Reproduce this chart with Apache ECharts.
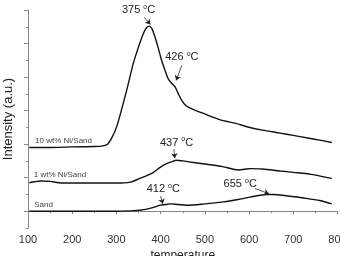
<!DOCTYPE html>
<html>
<head>
<meta charset="utf-8">
<script src="https://cdn.jsdelivr.net/npm/echarts@6/dist/echarts.min.js"></script>
<style>
html, body { margin: 0; padding: 0; background: #fff; }
#chartBox { width: 340px; height: 256px; }
</style>
</head>
<body>
<div id="chartBox"></div>
<script>
// temperature (x) and stacked intensity (a.u., offset per sample)
var tenX = [103, 150, 200, 250, 270, 280, 290, 300, 312, 325, 338, 350, 361, 368, 374, 380, 387, 395, 402, 410, 417, 426, 433, 440, 448, 457, 466, 480, 500, 520, 542, 570, 595, 630, 670, 700, 730, 760, 787];
var tenY = [1.9, 1.9, 1.92, 1.93, 1.95, 2.0, 2.2, 2.5, 3.05, 3.7, 4.4, 4.9, 5.3, 5.47, 5.52, 5.45, 5.2, 4.85, 4.5, 4.2, 3.95, 3.8, 3.7, 3.5, 3.3, 3.15, 3.08, 3.0, 2.9, 2.8, 2.7, 2.62, 2.52, 2.42, 2.33, 2.26, 2.19, 2.12, 2.05];

var oneX = [103, 115, 130, 150, 170, 200, 250, 300, 330, 353, 370, 383, 398, 410, 425, 436, 450, 470, 504, 540, 576, 590, 602, 630, 670, 700, 740, 787];
var oneY = [0.85, 0.88, 0.9, 0.89, 0.85, 0.84, 0.84, 0.84, 0.86, 0.98, 1.07, 1.15, 1.3, 1.4, 1.48, 1.52, 1.5, 1.46, 1.4, 1.33, 1.23, 1.25, 1.27, 1.26, 1.2, 1.16, 1.1, 0.98];

var sandX = [103, 150, 200, 250, 300, 330, 353, 380, 399, 412, 421, 440, 459, 500, 542, 575, 602, 640, 655, 680, 720, 760, 787];
var sandY = [0.0, 0.0, 0.0, 0.0, 0.0, 0.01, 0.03, 0.1, 0.18, 0.2, 0.22, 0.2, 0.18, 0.22, 0.28, 0.35, 0.42, 0.5, 0.5, 0.47, 0.4, 0.32, 0.22];

var xTicks = [100, 200, 300, 400, 500, 600, 700, 800];
var yMajor = [0, 1, 2, 3, 4, 5, 6];

// peak annotations: text position, arrow start, arrow end (data units)
var peakText = ['375', '426', '437', '412', '655'];
var peakPos = [[350, 6.0], [448, 4.6], [436, 2.05], [406, 0.65], [580, 0.8]];
var arrowFrom = [[363, 5.78], [448, 4.35], [430, 1.85], [400, 0.45], [613, 0.68]];
var arrowTo = [[377, 5.57], [435, 3.9], [432, 1.58], [405, 0.22], [645, 0.52]];

var seriesNames = ['10 wt% Ni/Sand', '1 wt% Ni/Sand', 'Sand'];
var namePos = [[116, 2.1], [113, 1.1], [114, 0.18]];

function zip(xs, ys) {
    var out = [];
    for (var i = 0; i < xs.length; i++) {
        out.push([xs[i], ys[i]]);
    }
    return out;
}

var font = 'Liberation Sans, Arial, sans-serif';
var myChart1 = echarts.init(document.getElementById('chartBox'));

var markPts = [];
var markLns = [];
for (var i = 0; i < peakText.length; i++) {
    markPts.push({
        coord: peakPos[i],
        symbolSize: 0,
        label: {
            show: true,
            position: 'inside',
            formatter: peakText[i] + ' {s|o}C',
            fontFamily: font,
            fontSize: 11,
            color: '#222',
            rich: {s: {fontSize: 7, padding: [0, 0, 6, 0], color: '#222', fontFamily: font}}
        }
    });
    markLns.push([{coord: arrowFrom[i]}, {coord: arrowTo[i]}]);
}
for (var k = 0; k < seriesNames.length; k++) {
    markPts.push({
        coord: namePos[k],
        symbolSize: 0,
        label: {
            show: true,
            position: 'right',
            distance: 0,
            formatter: seriesNames[k],
            fontFamily: font,
            fontSize: 8,
            color: '#444'
        }
    });
}

var lineStyle = {color: '#111', width: 1.4};

option = {
    animation: false,
    grid: {left: 28, right: 2.5, top: 10, bottom: 28, containLabel: false, outerBoundsMode: 'none'},
    xAxis: {
        type: 'value',
        min: 100,
        max: 800,
        interval: 100,
        name: 'temperature',
        nameLocation: 'middle',
        nameGap: 21,
        nameTextStyle: {fontFamily: font, fontSize: 12, color: '#222'},
        axisLine: {lineStyle: {color: '#888'}},
        axisTick: {length: 3, lineStyle: {color: '#888'}},
        minorTick: {show: true, splitNumber: 2, length: 2, lineStyle: {color: '#888'}},
        axisLabel: {fontFamily: font, fontSize: 11, color: '#333', margin: 6},
        splitLine: {show: false}
    },
    yAxis: [{
        type: 'value',
        min: -0.5,
        max: 6,
        interval: 0.5,
        name: 'Intensity (a.u.)',
        nameLocation: 'middle',
        nameGap: 13,
        nameTextStyle: {fontFamily: font, fontSize: 13, color: '#222'},
        axisLine: {show: true, lineStyle: {color: '#888'}},
        axisTick: {show: true, length: 2, lineStyle: {color: '#888'}},
        axisLabel: {show: false},
        splitLine: {show: false}
    }, {
        type: 'value',
        min: -0.5,
        max: 6,
        position: 'left',
        axisLine: {show: false},
        axisTick: {show: true, length: 4, customValues: yMajor, lineStyle: {color: '#888'}},
        axisLabel: {show: false, customValues: yMajor},
        splitLine: {show: false}
    }],
    series: [
        {
            name: seriesNames[0], type: 'line', data: zip(tenX, tenY),
            showSymbol: false, smooth: 0.3, lineStyle: lineStyle,
            markPoint: {symbol: 'circle', data: markPts, silent: true},
            markLine: {
                silent: true, symbol: ['none', 'arrow'], symbolSize: 5,
                label: {show: false},
                lineStyle: {color: '#222', width: 0.8, type: 'solid'},
                data: markLns
            }
        },
        {name: seriesNames[1], type: 'line', data: zip(oneX, oneY), showSymbol: false, smooth: 0.3, lineStyle: lineStyle},
        {name: seriesNames[2], type: 'line', data: zip(sandX, sandY), showSymbol: false, smooth: 0.3, lineStyle: lineStyle}
    ]
};
myChart1.setOption(option);
</script>
</body>
</html>
